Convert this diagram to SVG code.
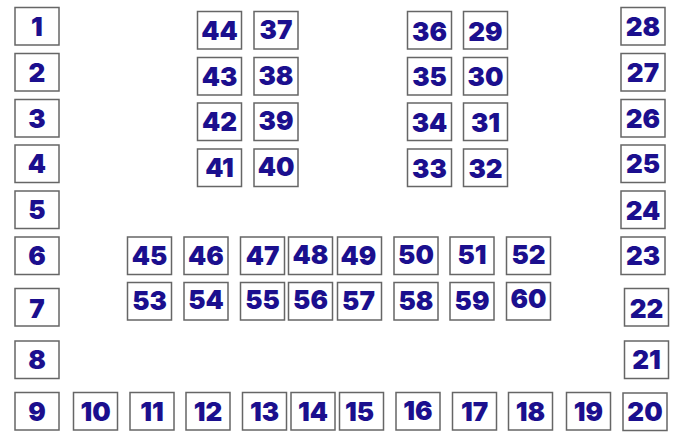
<svg xmlns="http://www.w3.org/2000/svg" width="689" height="446" viewBox="0 0 689 446">
<style>
.b{fill:#fff;stroke:#666;stroke-width:1.5}
.t{font-family:Inter,"Noto Sans",sans-serif;font-weight:900;font-size:26px;fill:#1b0f8e;text-anchor:middle}
</style>
<rect width="689" height="446" fill="#fff"/>
<g id="connectors"></g>
<g id="n1"><rect class="b" x="15" y="7.5" width="44" height="37.5"/><text class="t" x="37" y="35.5">1</text></g>
<g id="n2"><rect class="b" x="15" y="53.5" width="44" height="37.5"/><text class="t" x="37" y="81.5">2</text></g>
<g id="n3"><rect class="b" x="15" y="99.5" width="44" height="37.5"/><text class="t" x="37" y="127.5">3</text></g>
<g id="n4"><rect class="b" x="15" y="145" width="44" height="37.5"/><text class="t" x="37" y="173">4</text></g>
<g id="n5"><rect class="b" x="15" y="191" width="44" height="37.5"/><text class="t" x="37" y="219">5</text></g>
<g id="n6"><rect class="b" x="15" y="237" width="44" height="37.5"/><text class="t" x="37" y="265">6</text></g>
<g id="n7"><rect class="b" x="15" y="288.5" width="44" height="37.5"/><text class="t" x="37" y="318">7</text></g>
<g id="n8"><rect class="b" x="15" y="341" width="44" height="37.5"/><text class="t" x="37" y="369">8</text></g>
<g id="n9"><rect class="b" x="15" y="392.5" width="44" height="37.5"/><text class="t" x="37" y="421">9</text></g>
<g id="n10"><rect class="b" x="73.5" y="392.5" width="44" height="37.5"/><text class="t" x="95.5" y="421">10</text></g>
<g id="n11"><rect class="b" x="130" y="392.5" width="44" height="37.5"/><text class="t" x="152" y="421">11</text></g>
<g id="n12"><rect class="b" x="186" y="392.5" width="44" height="37.5"/><text class="t" x="208" y="421">12</text></g>
<g id="n13"><rect class="b" x="242.5" y="392.5" width="44" height="37.5"/><text class="t" x="264.5" y="421">13</text></g>
<g id="n14"><rect class="b" x="291" y="392.5" width="44" height="37.5"/><text class="t" x="313" y="421">14</text></g>
<g id="n15"><rect class="b" x="339.5" y="392.5" width="44" height="37.5"/><text class="t" x="359.5" y="421">15</text></g>
<g id="n16"><rect class="b" x="396" y="392.5" width="44" height="37.5"/><text class="t" x="418" y="420">16</text></g>
<g id="n17"><rect class="b" x="452.5" y="392.5" width="44" height="37.5"/><text class="t" x="474.5" y="421">17</text></g>
<g id="n18"><rect class="b" x="508.5" y="392.5" width="44" height="37.5"/><text class="t" x="530.5" y="421">18</text></g>
<g id="n19"><rect class="b" x="566.5" y="392.5" width="44" height="37.5"/><text class="t" x="588.5" y="421">19</text></g>
<g id="n20"><rect class="b" x="623" y="393" width="44" height="37.5"/><text class="t" x="645" y="421">20</text></g>
<g id="n21"><rect class="b" x="624.5" y="341" width="44" height="37.5"/><text class="t" x="646.5" y="369">21</text></g>
<g id="n22"><rect class="b" x="624.5" y="288.5" width="44" height="37.5"/><text class="t" x="646.5" y="318">22</text></g>
<g id="n23"><rect class="b" x="621" y="237" width="44" height="37.5"/><text class="t" x="643" y="265">23</text></g>
<g id="n24"><rect class="b" x="621" y="191" width="44" height="37.5"/><text class="t" x="643" y="220">24</text></g>
<g id="n25"><rect class="b" x="621" y="145" width="44" height="37.5"/><text class="t" x="643" y="173">25</text></g>
<g id="n26"><rect class="b" x="621" y="99.5" width="44" height="37.5"/><text class="t" x="643" y="127.5">26</text></g>
<g id="n27"><rect class="b" x="621" y="53.5" width="44" height="37.5"/><text class="t" x="643" y="81.5">27</text></g>
<g id="n28"><rect class="b" x="621" y="7.5" width="44" height="37.5"/><text class="t" x="643" y="36">28</text></g>
<g id="n29"><rect class="b" x="463.5" y="11.5" width="44" height="37.5"/><text class="t" x="485.5" y="41">29</text></g>
<g id="n30"><rect class="b" x="463.5" y="57.5" width="44" height="37.5"/><text class="t" x="485.5" y="86">30</text></g>
<g id="n31"><rect class="b" x="463.5" y="103" width="44" height="37.5"/><text class="t" x="485.5" y="131.5">31</text></g>
<g id="n32"><rect class="b" x="463.5" y="149" width="44" height="37.5"/><text class="t" x="485.5" y="178">32</text></g>
<g id="n33"><rect class="b" x="407.5" y="149" width="44" height="37.5"/><text class="t" x="429.5" y="178">33</text></g>
<g id="n34"><rect class="b" x="407.5" y="103" width="44" height="37.5"/><text class="t" x="429.5" y="132">34</text></g>
<g id="n35"><rect class="b" x="407.5" y="57.5" width="44" height="37.5"/><text class="t" x="429.5" y="86">35</text></g>
<g id="n36"><rect class="b" x="407.5" y="11.5" width="44" height="37.5"/><text class="t" x="429.5" y="40.5">36</text></g>
<g id="n37"><rect class="b" x="254" y="11.5" width="44" height="37.5"/><text class="t" x="276" y="39">37</text></g>
<g id="n38"><rect class="b" x="254" y="57.5" width="44" height="37.5"/><text class="t" x="276" y="84.5">38</text></g>
<g id="n39"><rect class="b" x="254" y="103" width="44" height="37.5"/><text class="t" x="276" y="130">39</text></g>
<g id="n40"><rect class="b" x="254" y="149" width="44" height="37.5"/><text class="t" x="276" y="176">40</text></g>
<g id="n41"><rect class="b" x="197.5" y="149" width="44" height="37.5"/><text class="t" x="219.5" y="177">41</text></g>
<g id="n42"><rect class="b" x="197.5" y="103" width="44" height="37.5"/><text class="t" x="219.5" y="131">42</text></g>
<g id="n43"><rect class="b" x="197.5" y="57.5" width="44" height="37.5"/><text class="t" x="219.5" y="85.5">43</text></g>
<g id="n44"><rect class="b" x="197.5" y="11.5" width="44" height="37.5"/><text class="t" x="219.5" y="40">44</text></g>
<g id="n45"><rect class="b" x="127.5" y="237" width="44" height="37.5"/><text class="t" x="149.5" y="265">45</text></g>
<g id="n46"><rect class="b" x="184" y="237" width="44" height="37.5"/><text class="t" x="206" y="264.5">46</text></g>
<g id="n47"><rect class="b" x="240.5" y="237" width="44" height="37.5"/><text class="t" x="262.5" y="264.5">47</text></g>
<g id="n48"><rect class="b" x="288.5" y="237" width="44" height="37.5"/><text class="t" x="310.5" y="263.5">48</text></g>
<g id="n49"><rect class="b" x="337.5" y="237" width="44" height="37.5"/><text class="t" x="358.5" y="265">49</text></g>
<g id="n50"><rect class="b" x="394" y="237" width="44" height="37.5"/><text class="t" x="416" y="264">50</text></g>
<g id="n51"><rect class="b" x="450" y="237" width="44" height="37.5"/><text class="t" x="472" y="264">51</text></g>
<g id="n52"><rect class="b" x="506.5" y="237" width="44" height="37.5"/><text class="t" x="528.5" y="264">52</text></g>
<g id="n53"><rect class="b" x="127.5" y="282.5" width="44" height="37.5"/><text class="t" x="149.5" y="309.5">53</text></g>
<g id="n54"><rect class="b" x="184" y="282.5" width="44" height="37.5"/><text class="t" x="206" y="308.5">54</text></g>
<g id="n55"><rect class="b" x="240.5" y="282.5" width="44" height="37.5"/><text class="t" x="262.5" y="309">55</text></g>
<g id="n56"><rect class="b" x="288.5" y="282.5" width="44" height="37.5"/><text class="t" x="310.5" y="308.5">56</text></g>
<g id="n57"><rect class="b" x="337.5" y="282.5" width="44" height="37.5"/><text class="t" x="358.5" y="309.5">57</text></g>
<g id="n58"><rect class="b" x="394" y="282.5" width="44" height="37.5"/><text class="t" x="416" y="309.5">58</text></g>
<g id="n59"><rect class="b" x="450" y="282.5" width="44" height="37.5"/><text class="t" x="472" y="309.5">59</text></g>
<g id="n60"><rect class="b" x="506.5" y="282.5" width="44" height="37.5"/><text class="t" x="528.5" y="308">60</text></g>
</svg>
